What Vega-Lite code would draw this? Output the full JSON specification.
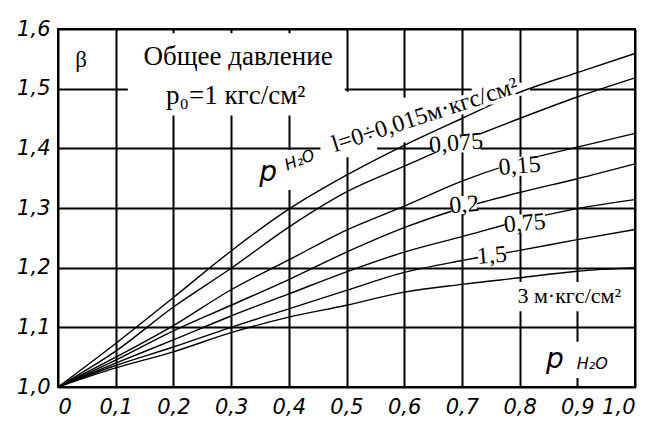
{
  "$schema": "https://vega.github.io/schema/vega-lite/v6.json",
  "width": 577,
  "height": 358,
  "autosize": {"type": "none"},
  "padding": {"left": 58, "top": 29, "right": 31, "bottom": 45},
  "background": "white",
  "config": {
    "view": {"stroke": "black", "strokeWidth": 2},
    "axis": {
      "grid": true, "gridColor": "black", "gridWidth": 2, "gridOpacity": 1,
      "domain": false, "ticks": false,
      "labelFont": "DejaVu Sans", "labelFontStyle": "italic", "labelFontSize": 21,
      "labelColor": "black", "title": null
    }
  },
  "datasets": {
    "curves": [
      {"x": 0, "b": 1.0, "c": "1"}, {"x": 0.1, "b": 1.073, "c": "1"}, {"x": 0.2, "b": 1.15, "c": "1"}, {"x": 0.3, "b": 1.228, "c": "1"}, {"x": 0.4, "b": 1.298, "c": "1"}, {"x": 0.5, "b": 1.355, "c": "1"}, {"x": 0.6, "b": 1.405, "c": "1"}, {"x": 0.7, "b": 1.45, "c": "1"}, {"x": 0.8, "b": 1.494, "c": "1"}, {"x": 0.9, "b": 1.527, "c": "1"}, {"x": 1.0, "b": 1.559, "c": "1"},
      {"x": 0, "b": 1.0, "c": "2"}, {"x": 0.1, "b": 1.06, "c": "2"}, {"x": 0.2, "b": 1.134, "c": "2"}, {"x": 0.3, "b": 1.199, "c": "2"}, {"x": 0.4, "b": 1.268, "c": "2"}, {"x": 0.5, "b": 1.327, "c": "2"}, {"x": 0.6, "b": 1.37, "c": "2"}, {"x": 0.7, "b": 1.412, "c": "2"}, {"x": 0.8, "b": 1.45, "c": "2"}, {"x": 0.9, "b": 1.486, "c": "2"}, {"x": 1.0, "b": 1.518, "c": "2"},
      {"x": 0, "b": 1.0, "c": "3"}, {"x": 0.1, "b": 1.05, "c": "3"}, {"x": 0.2, "b": 1.103, "c": "3"}, {"x": 0.3, "b": 1.163, "c": "3"}, {"x": 0.4, "b": 1.213, "c": "3"}, {"x": 0.5, "b": 1.263, "c": "3"}, {"x": 0.6, "b": 1.303, "c": "3"}, {"x": 0.7, "b": 1.345, "c": "3"}, {"x": 0.8, "b": 1.378, "c": "3"}, {"x": 0.9, "b": 1.402, "c": "3"}, {"x": 1.0, "b": 1.425, "c": "3"},
      {"x": 0, "b": 1.0, "c": "4"}, {"x": 0.1, "b": 1.045, "c": "4"}, {"x": 0.2, "b": 1.094, "c": "4"}, {"x": 0.3, "b": 1.137, "c": "4"}, {"x": 0.4, "b": 1.18, "c": "4"}, {"x": 0.5, "b": 1.226, "c": "4"}, {"x": 0.6, "b": 1.267, "c": "4"}, {"x": 0.7, "b": 1.3, "c": "4"}, {"x": 0.8, "b": 1.326, "c": "4"}, {"x": 0.9, "b": 1.349, "c": "4"}, {"x": 1.0, "b": 1.374, "c": "4"},
      {"x": 0, "b": 1.0, "c": "5"}, {"x": 0.1, "b": 1.04, "c": "5"}, {"x": 0.2, "b": 1.079, "c": "5"}, {"x": 0.3, "b": 1.119, "c": "5"}, {"x": 0.4, "b": 1.156, "c": "5"}, {"x": 0.5, "b": 1.193, "c": "5"}, {"x": 0.6, "b": 1.226, "c": "5"}, {"x": 0.7, "b": 1.252, "c": "5"}, {"x": 0.8, "b": 1.278, "c": "5"}, {"x": 0.9, "b": 1.299, "c": "5"}, {"x": 1.0, "b": 1.314, "c": "5"},
      {"x": 0, "b": 1.0, "c": "6"}, {"x": 0.1, "b": 1.036, "c": "6"}, {"x": 0.2, "b": 1.067, "c": "6"}, {"x": 0.3, "b": 1.1, "c": "6"}, {"x": 0.4, "b": 1.131, "c": "6"}, {"x": 0.5, "b": 1.162, "c": "6"}, {"x": 0.6, "b": 1.192, "c": "6"}, {"x": 0.7, "b": 1.212, "c": "6"}, {"x": 0.8, "b": 1.229, "c": "6"}, {"x": 0.9, "b": 1.247, "c": "6"}, {"x": 1.0, "b": 1.264, "c": "6"},
      {"x": 0, "b": 1.0, "c": "7"}, {"x": 0.1, "b": 1.032, "c": "7"}, {"x": 0.2, "b": 1.059, "c": "7"}, {"x": 0.3, "b": 1.091, "c": "7"}, {"x": 0.4, "b": 1.117, "c": "7"}, {"x": 0.5, "b": 1.137, "c": "7"}, {"x": 0.6, "b": 1.159, "c": "7"}, {"x": 0.7, "b": 1.172, "c": "7"}, {"x": 0.8, "b": 1.183, "c": "7"}, {"x": 0.9, "b": 1.194, "c": "7"}, {"x": 1.0, "b": 1.2, "c": "7"}
    ],
    "blanks": [
      {"x1": 0.121, "x2": 0.497, "y1": 1.455, "y2": 1.593},
      {"x1": 0.37, "x2": 0.455, "y1": 1.33, "y2": 1.397},
      {"x1": 0.455, "x2": 0.553, "y1": 1.385, "y2": 1.495},
      {"x1": 0.585, "x2": 0.615, "y1": 1.41, "y2": 1.485},
      {"x1": 0.717, "x2": 0.818, "y1": 1.488, "y2": 1.51},
      {"x1": 0.79, "x2": 0.985, "y1": 1.127, "y2": 1.176},
      {"x1": 0.84, "x2": 0.982, "y1": 1.015, "y2": 1.076}
    ],
    "labelBoxes": [
      {"x1": 0.648, "x2": 0.732, "y1": 1.393, "y2": 1.424},
      {"x1": 0.764, "x2": 0.836, "y1": 1.354, "y2": 1.386},
      {"x1": 0.682, "x2": 0.726, "y1": 1.29, "y2": 1.32},
      {"x1": 0.774, "x2": 0.844, "y1": 1.259, "y2": 1.289},
      {"x1": 0.728, "x2": 0.776, "y1": 1.206, "y2": 1.235}
    ],
    "curveLabels": [
      {"x": 0.69, "b": 1.408, "t": "0,075"},
      {"x": 0.8, "b": 1.37, "t": "0,15"},
      {"x": 0.704, "b": 1.305, "t": "0,2"},
      {"x": 0.809, "b": 1.274, "t": "0,75"},
      {"x": 0.752, "b": 1.22, "t": "1,5"}
    ],
    "rotLabel": [{"x": 0.636, "b": 1.455, "t": "l=0÷0,015м·кгс/см²"}],
    "titleText": [
      {"x": 0.312, "b": 1.553, "t": "Общее давление"},
      {"x": 0.308, "b": 1.487, "t": "p₀=1 кгс/см²"}
    ],
    "beta": [{"x": 0.04, "b": 1.548, "t": "β"}],
    "lastLabel": [{"x": 0.886, "b": 1.153, "t": "3 м·кгс/см²"}],
    "pBig": [
      {"x": 0.364, "b": 1.358, "t": "p"},
      {"x": 0.861, "b": 1.046, "t": "p"}
    ],
    "subRot": [{"x": 0.419, "b": 1.38, "t": "H₂O"}],
    "subFlat": [{"x": 0.926, "b": 1.038, "t": "H₂O"}]
  },
  "layer": [
    {
      "data": {"name": "blanks"},
      "mark": {"type": "rect", "fill": "white"},
      "encoding": {
        "x": {"field": "x1", "type": "quantitative", "scale": {"domain": [0, 1], "nice": false, "zero": false},
              "axis": {"values": [0, 0.1, 0.2, 0.3, 0.4, 0.5, 0.6, 0.7, 0.8, 0.9, 1.0], "labelPadding": 9,
                       "labelExpr": "datum.value == 0 ? '0' : replace(format(datum.value, '.1f'), '.', ',')"}},
        "x2": {"field": "x2"},
        "y": {"field": "y1", "type": "quantitative", "scale": {"domain": [1, 1.6], "nice": false, "zero": false},
              "axis": {"values": [1.0, 1.1, 1.2, 1.3, 1.4, 1.5, 1.6], "labelPadding": 8,
                       "labelExpr": "replace(format(datum.value, '.1f'), '.', ',')"}},
        "y2": {"field": "y2"}
      }
    },
    {
      "data": {"name": "curves"},
      "mark": {"type": "line", "stroke": "black", "strokeWidth": 1.4, "interpolate": "monotone"},
      "encoding": {
        "x": {"field": "x", "type": "quantitative"},
        "y": {"field": "b", "type": "quantitative"},
        "detail": {"field": "c"}
      }
    },
    {
      "data": {"name": "labelBoxes"},
      "mark": {"type": "rect", "fill": "white"},
      "encoding": {
        "x": {"field": "x1", "type": "quantitative"},
        "x2": {"field": "x2"},
        "y": {"field": "y1", "type": "quantitative"},
        "y2": {"field": "y2"}
      }
    },
    {
      "data": {"name": "curveLabels"},
      "mark": {"type": "text", "font": "Liberation Serif", "fontSize": 24, "angle": -5, "fill": "black"},
      "encoding": {"x": {"field": "x", "type": "quantitative"}, "y": {"field": "b", "type": "quantitative"}, "text": {"field": "t"}}
    },
    {
      "data": {"name": "rotLabel"},
      "mark": {"type": "text", "font": "Liberation Serif", "fontSize": 24, "angle": -18, "fill": "white", "stroke": "white", "strokeWidth": 7, "strokeJoin": "round"},
      "encoding": {"x": {"field": "x", "type": "quantitative"}, "y": {"field": "b", "type": "quantitative"}, "text": {"field": "t"}}
    },
    {
      "data": {"name": "rotLabel"},
      "mark": {"type": "text", "font": "Liberation Serif", "fontSize": 24, "angle": -18, "fill": "black"},
      "encoding": {"x": {"field": "x", "type": "quantitative"}, "y": {"field": "b", "type": "quantitative"}, "text": {"field": "t"}}
    },
    {
      "data": {"name": "titleText"},
      "mark": {"type": "text", "font": "Liberation Serif", "fontSize": 27, "fill": "black"},
      "encoding": {"x": {"field": "x", "type": "quantitative"}, "y": {"field": "b", "type": "quantitative"}, "text": {"field": "t"}}
    },
    {
      "data": {"name": "beta"},
      "mark": {"type": "text", "font": "Liberation Serif", "fontSize": 23, "fill": "black"},
      "encoding": {"x": {"field": "x", "type": "quantitative"}, "y": {"field": "b", "type": "quantitative"}, "text": {"field": "t"}}
    },
    {
      "data": {"name": "lastLabel"},
      "mark": {"type": "text", "font": "Liberation Serif", "fontSize": 22, "fill": "black"},
      "encoding": {"x": {"field": "x", "type": "quantitative"}, "y": {"field": "b", "type": "quantitative"}, "text": {"field": "t"}}
    },
    {
      "data": {"name": "pBig"},
      "mark": {"type": "text", "font": "DejaVu Sans", "fontStyle": "italic", "fontSize": 28, "fill": "black"},
      "encoding": {"x": {"field": "x", "type": "quantitative"}, "y": {"field": "b", "type": "quantitative"}, "text": {"field": "t"}}
    },
    {
      "data": {"name": "subRot"},
      "mark": {"type": "text", "font": "DejaVu Sans", "fontStyle": "italic", "fontSize": 16, "angle": -22, "fill": "black"},
      "encoding": {"x": {"field": "x", "type": "quantitative"}, "y": {"field": "b", "type": "quantitative"}, "text": {"field": "t"}}
    },
    {
      "data": {"name": "subFlat"},
      "mark": {"type": "text", "font": "DejaVu Sans", "fontStyle": "italic", "fontSize": 16, "fill": "black"},
      "encoding": {"x": {"field": "x", "type": "quantitative"}, "y": {"field": "b", "type": "quantitative"}, "text": {"field": "t"}}
    }
  ]
}
